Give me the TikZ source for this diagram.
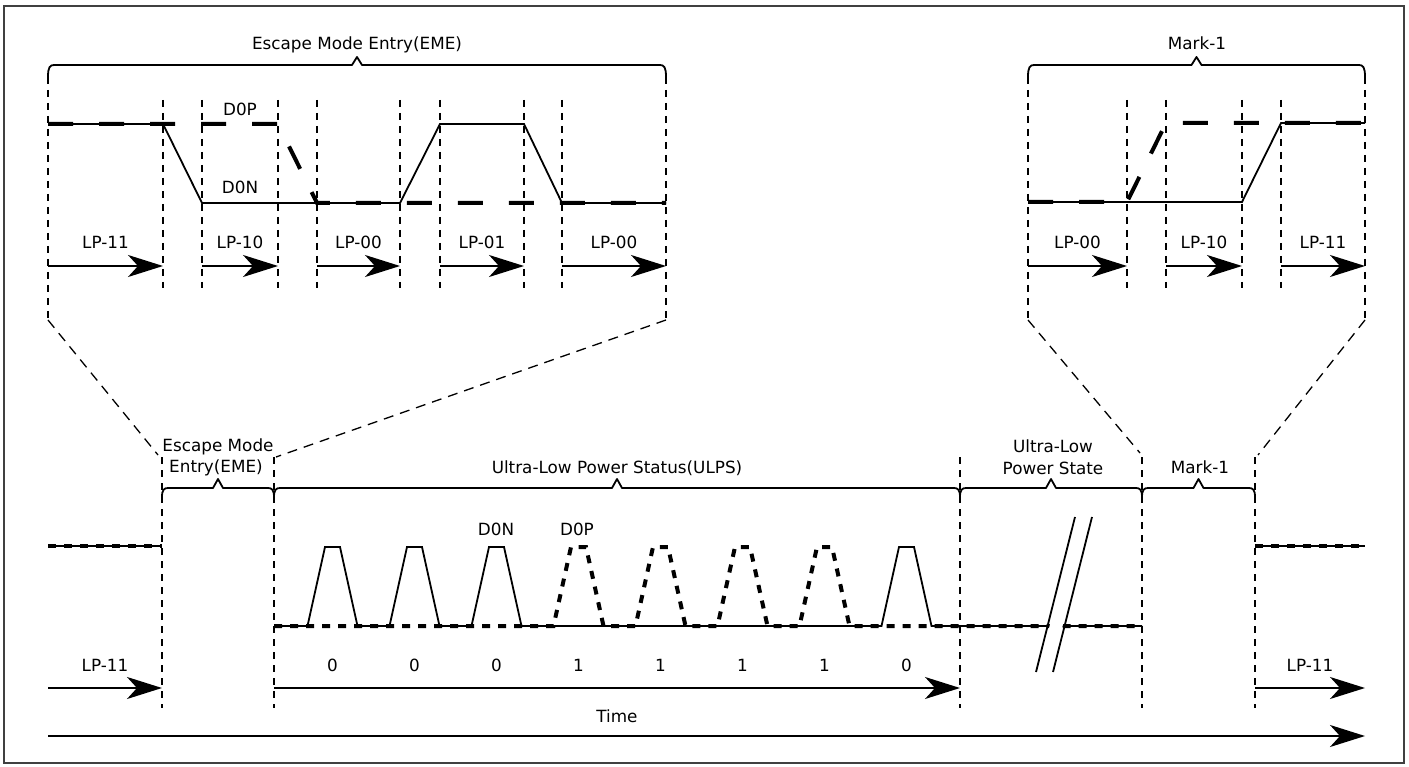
\documentclass[tikz,border=0pt]{standalone}
\usepackage{fontspec}
\setmainfont{DejaVu Sans}
\usetikzlibrary{arrows.meta}
\newcommand\mybrace[5]{%
  \pgfmathsetmacro\bm{(#1+#2)/2}%
  \draw[brc] (#1,#3+#4) .. controls (#1,#3+2) and (#1+2,#3) .. (#1+6,#3)
    -- (\bm-5,#3) -- (\bm,#3-#5) -- (\bm+5,#3) -- (#2-6,#3)
    .. controls (#2-2,#3) and (#2,#3+2) .. (#2,#3+#4);%
}
\begin{document}
\begin{tikzpicture}[x=1pt,y=-1pt,
  lbl/.style={font=\fontsize{16.8}{20}\selectfont, inner sep=0pt, anchor=base},
  guide/.style={line width=1.3pt, dash pattern=on 7pt off 6pt},
  zoomline/.style={line width=1.3pt, dash pattern=on 10pt off 7pt},
  brc/.style={line width=1.8pt, line join=round},
  sigN/.style={line width=1.8pt, line join=miter},
  sigPbig/.style={line width=4pt, dash pattern=on 25pt off 26pt},
  sigPsmall/.style={line width=4pt, dash pattern=on 8pt off 8pt},
  tarrow/.style={line width=2pt, -{Stealth[length=35pt,width=22pt,inset=10pt]}},
]
\useasboundingbox (0,0) rectangle (1409,767);
\draw[line width=1.5pt, black!75] (4,6) rectangle (1404,763);

% ---------------- top-left zoom box (EME) ----------------
\node[lbl] (tEME) at (357,50) {Escape Mode Entry(EME)};
\mybrace{48}{666}{65}{12}{8}
\draw[guide] (48,77) -- (48,320);
\draw[guide] (666,77) -- (666,320);
\foreach \x in {163,202,278,317,400,440,524,562} \draw[guide] (\x,100) -- (\x,288);
\draw[sigN] (48,124) -- (163,124) -- (202,203) -- (400,203) -- (440,124) -- (524,124) -- (562,203) -- (666,203);
\draw[sigPbig] (48,124) -- (278,124) -- (317,203) -- (666,203);
\node[lbl] (tD0P) at (240,116) {D0P};
\node[lbl] (tD0N) at (240,194) {D0N};
\foreach \n/\xa/\xb/\t in {1/48/163/LP-11, 2/202/278/LP-10, 3/317/400/LP-00, 4/440/524/LP-01, 5/562/666/LP-00} {
  \coordinate (ts\n) at (\xa,266); \coordinate (te\n) at (\xb,266);
  \draw[tarrow] (ts\n) -- (te\n);
  \node[lbl] (tl\n) at ({(\xa+\xb)/2},249) {\t};
}

% ---------------- top-right zoom box (Mark-1) ----------------
\node[lbl] (tM1) at (1197,50) {Mark-1};
\mybrace{1028}{1365}{65}{12}{8}
\draw[guide] (1028,77) -- (1028,320);
\draw[guide] (1365,77) -- (1365,320);
\foreach \x in {1127,1166,1242,1281} \draw[guide] (\x,100) -- (\x,288);
\draw[sigN] (1028,202) -- (1242,202) -- (1281,123) -- (1365,123);
\draw[sigPbig] (1028,202) -- (1127,202) -- (1166,123) -- (1365,123);
\foreach \n/\xa/\xb/\t in {6/1028/1127/LP-00, 7/1166/1242/LP-10, 8/1281/1365/LP-11} {
  \coordinate (ts\n) at (\xa,266); \coordinate (te\n) at (\xb,266);
  \draw[tarrow] (ts\n) -- (te\n);
  \node[lbl] (tl\n) at ({(\xa+\xb)/2},249) {\t};
}

% ---------------- zoom connector lines ----------------
\coordinate (zA1) at (48,320);  \coordinate (zA2) at (158,455);
\coordinate (zB1) at (666,320); \coordinate (zB2) at (276,457);
\coordinate (zC1) at (1028,320); \coordinate (zC2) at (1140,453);
\coordinate (zD1) at (1365,320); \coordinate (zD2) at (1258,455);
\draw[zoomline] (zA1) -- (zA2);
\draw[zoomline] (zB1) -- (zB2);
\draw[zoomline] (zC1) -- (zC2);
\draw[zoomline] (zD1) -- (zD2);

% ---------------- bottom timeline ----------------
\foreach \x in {162,274,960,1142,1255} \draw[guide] (\x,457) -- (\x,708);
\mybrace{162}{274}{488}{9}{9}
\mybrace{274}{960}{488}{9}{9}
\mybrace{960}{1142}{488}{9}{9}
\mybrace{1142}{1255}{488}{9}{9}
\node[lbl] (bE1) at (218,451) {Escape Mode};
\node[lbl] (bE2) at (216,472) {Entry(EME)};
\node[lbl] (bU) at (617,473) {Ultra-Low Power Status(ULPS)};
\node[lbl] (bS1) at (1053,452) {Ultra-Low};
\node[lbl] (bS2) at (1053,474) {Power State};
\node[lbl] (bM) at (1200,473) {Mark-1};

% high levels at both ends
\draw[sigN] (48,546) -- (162,546);
\draw[sigPsmall] (48,546) -- (162,546);
\draw[sigN] (1255,546) -- (1365,546);
\draw[sigPsmall] (1255,546) -- (1365,546);

% D0N (solid) pulses for bits 0, D0P (dashed) pulses for bits 1
\draw[sigN] (274,626)
  \foreach \i in {0,1,2,7} { -- ({332.5+82*\i-25},626) -- ({332.5+82*\i-7.5},547) -- ({332.5+82*\i+7.5},547) -- ({332.5+82*\i+25},626) }
  -- (1142,626);
\draw[sigPsmall] (274,626)
  \foreach \i in {3,4,5,6} { -- ({332.5+82*\i-25},626) -- ({332.5+82*\i-7.5},547) -- ({332.5+82*\i+7.5},547) -- ({332.5+82*\i+25},626) }
  -- (1142,626);
\node[lbl] (bD0N) at (496,535) {D0N};
\node[lbl] (bD0P) at (577,535) {D0P};
\foreach \i/\b in {0/0,1/0,2/0,3/1,4/1,5/1,6/1,7/0}
  \node[lbl] (bit\i) at ({332.5+82*\i},671) {\b};

% break mark
\fill[white] (1038,672) -- (1077,517) -- (1090,517) -- (1051,672) -- cycle;
\draw[sigN] (1036,672) -- (1075,517);
\draw[sigN] (1053,672) -- (1092,517);

% bottom arrows
\coordinate (bs1) at (48,688);   \coordinate (be1) at (162,688);
\coordinate (bs2) at (274,688);  \coordinate (be2) at (960,688);
\coordinate (bs3) at (1255,688); \coordinate (be3) at (1365,688);
\draw[tarrow] (bs1) -- (be1);
\draw[tarrow] (bs2) -- (be2);
\draw[tarrow] (bs3) -- (be3);
\node[lbl] (bL1) at (105,671) {LP-11};
\node[lbl] (bL3) at (1310,671) {LP-11};

% time axis
\coordinate (ts) at (48,736); \coordinate (te) at (1365,736);
\draw[tarrow] (ts) -- (te);
\node[lbl] (tTime) at (617,722) {Time};
\end{tikzpicture}
\end{document}
